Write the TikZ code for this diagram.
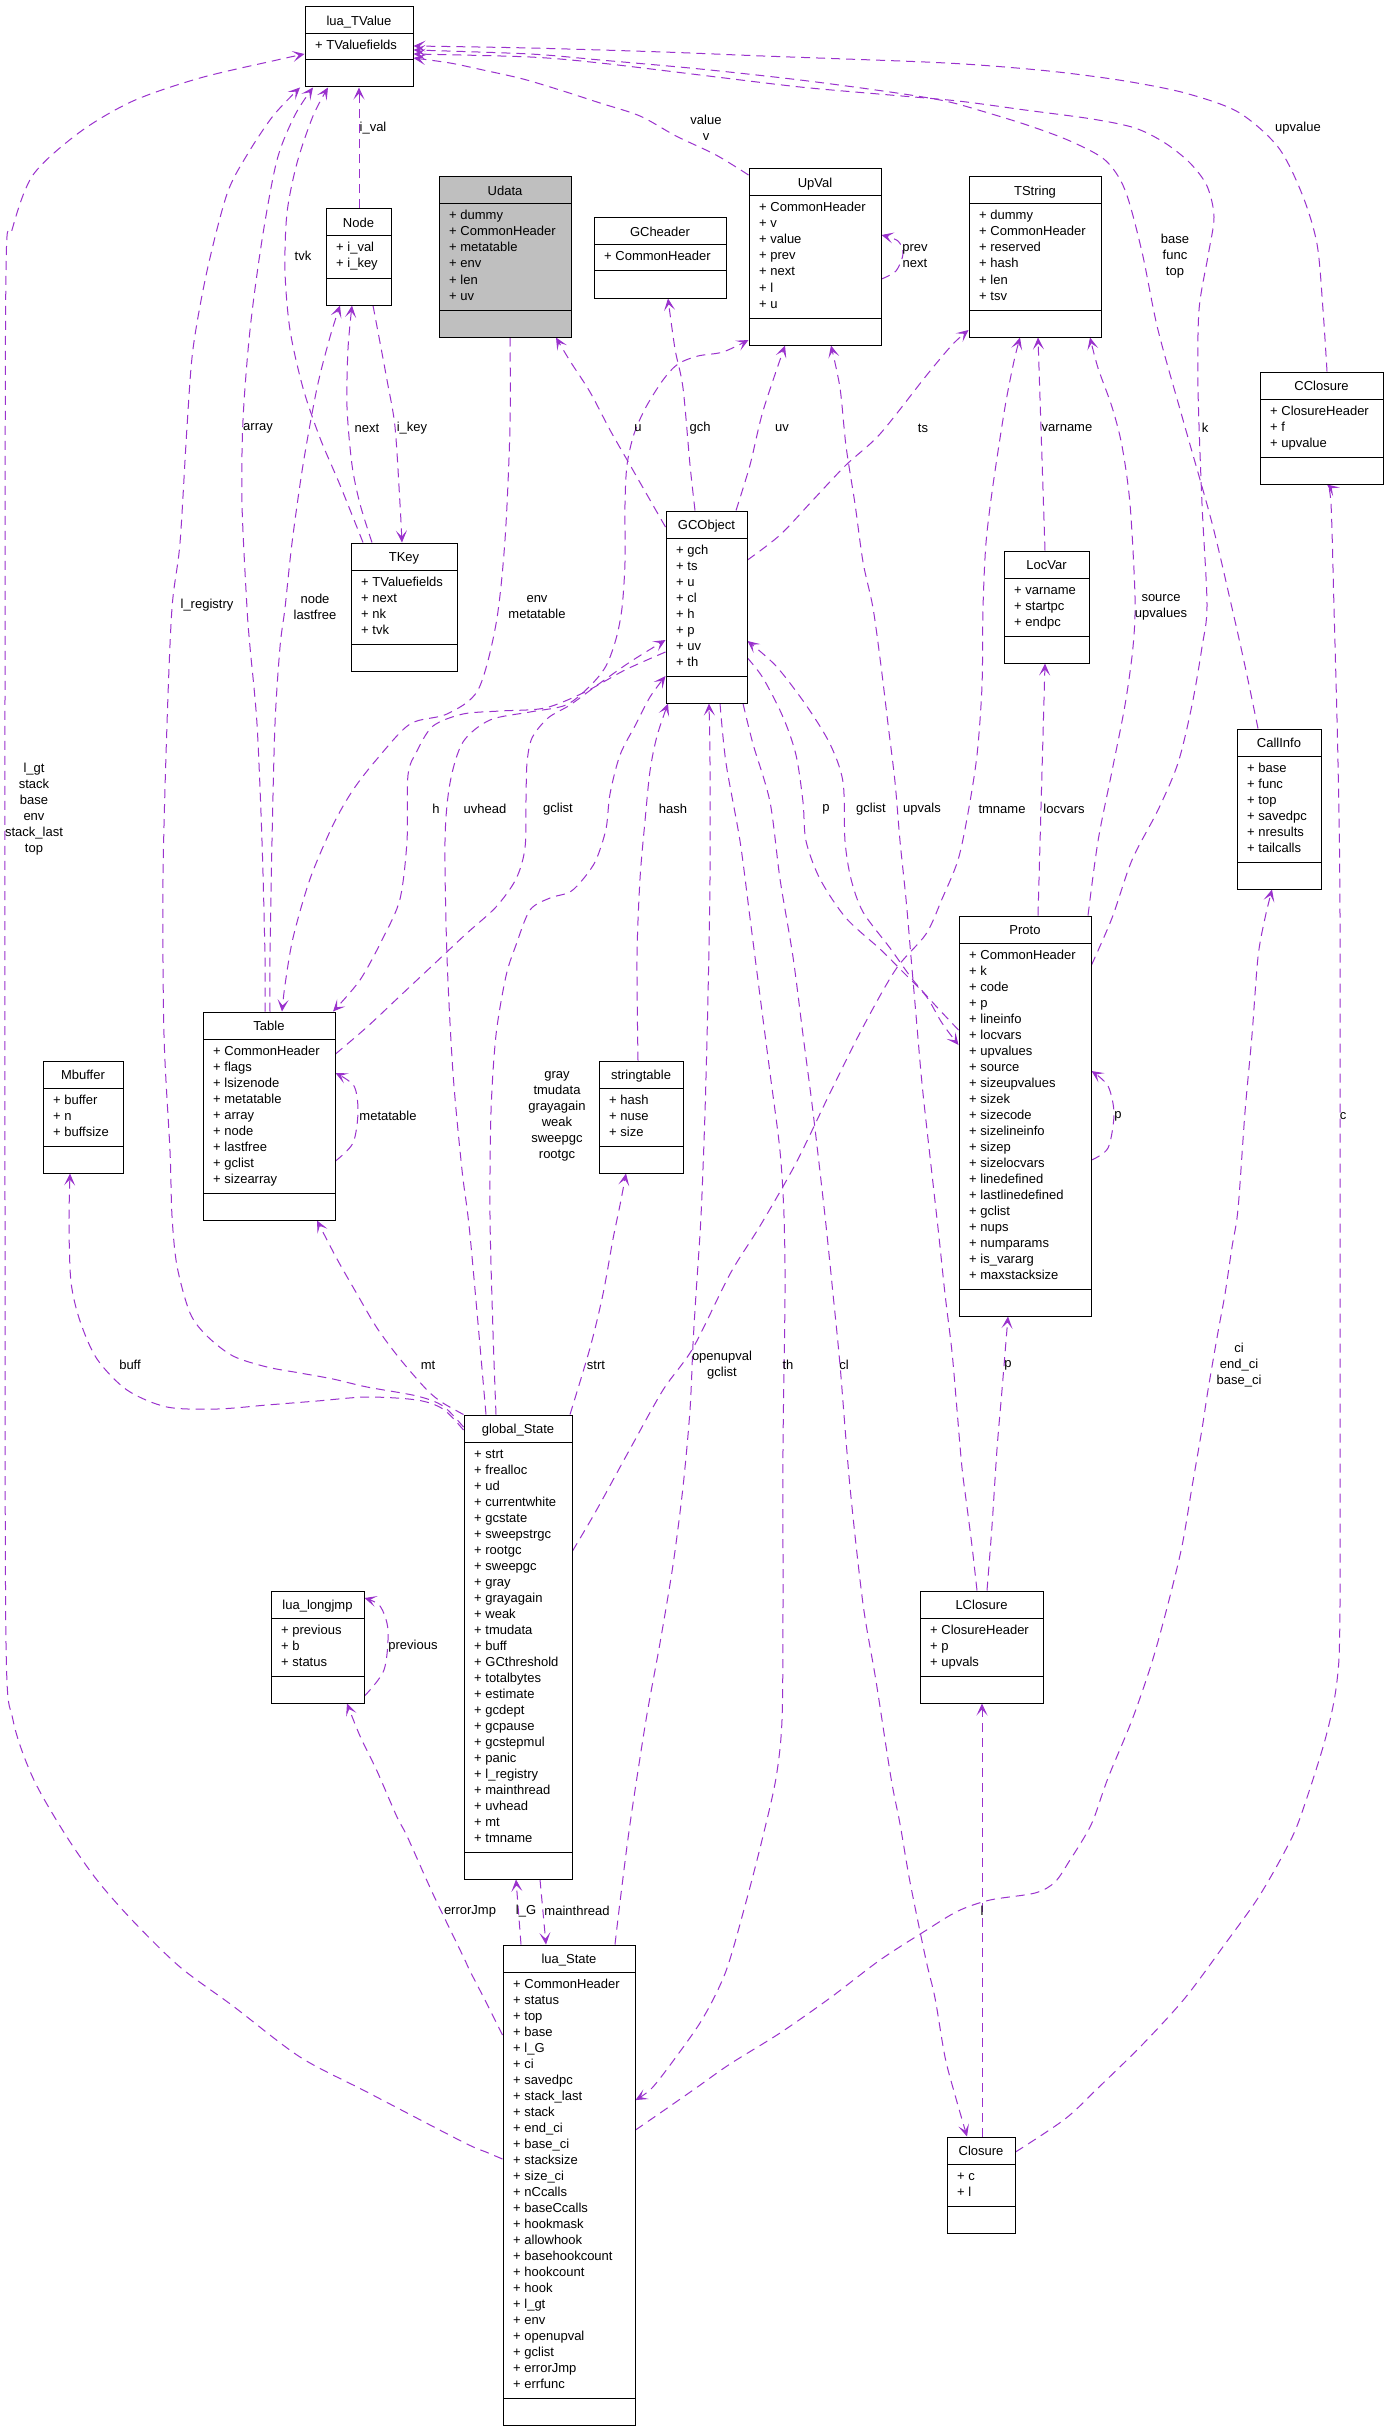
\documentclass[tikz,border=0pt]{standalone}
\usepackage{fontspec}
\setmainfont{Liberation Sans}
\usetikzlibrary{arrows.meta,fit}
\pgfdeclarelayer{bg}
\pgfdeclarelayer{edges}
\pgfsetlayers{bg,edges,main}
\definecolor{edgec}{HTML}{9A32CD}
\definecolor{udgray}{HTML}{BFBFBF}
\tikzset{
  clsnode/.style={draw=black, line width=1pt, inner sep=0pt, fill=white},
  clsline/.style={draw=black, line width=1pt},
  ttl/.style={anchor=base, inner sep=0pt, font=\fontsize{13}{16}\selectfont},
  fld/.style={anchor=base west, inner sep=0pt, font=\fontsize{13}{16}\selectfont},
  elabel/.style={align=center, inner sep=0pt, font=\fontsize{13}{16}\selectfont},
  edge/.style={draw=edgec, line width=1pt, dash pattern=on 9pt off 6pt,
    -{Stealth[length=12pt,width=11pt,inset=6pt,fill=edgec]}}
}
\newcommand{\umlcls}[8]{%
  \pgfmathsetmacro\clsyh{#4+27}%
  \pgfmathsetmacro\clsyd{#4+37+16*#6}%
  \pgfmathsetmacro\clsyb{#4+64+16*#6}%
  \pgfmathsetmacro\clsxm{(#3+#5)/2}%
  \node[clsnode,#1,fit={(#3,#4)(#5,\clsyb)}] (#2) {};
  \draw[clsline] (#3,\clsyh) -- (#5,\clsyh) (#3,\clsyd) -- (#5,\clsyd);
  \node[ttl] (#2-title) at (\clsxm,#4+18.5) {#7};
  \foreach \clsf [count=\clsi] in {#8} {\node[fld] (#2-f\clsi) at (#3+10,\clsyh+16*\clsi) {+ \clsf};}
}
\begin{document}
\begin{tikzpicture}[x=1pt,y=-1pt]
\begin{pgfonlayer}{bg}
\fill[white] (0,0) rectangle (1388,2432);
\end{pgfonlayer}
\useasboundingbox (0,0) rectangle (1388,2432);

\umlcls{}{TValue}{305}{7}{413}{1}{lua\_TValue}{TValuefields}
\umlcls{}{Node}{326}{209}{391}{2}{Node}{i\_val,i\_key}
\umlcls{}{TKey}{351}{543}{457}{4}{TKey}{TValuefields,next,nk,tvk}
\umlcls{fill=udgray}{Udata}{439}{177}{571}{6}{Udata}{dummy,CommonHeader,metatable,env,len,uv}
\umlcls{}{GCheader}{594}{218}{726}{1}{GCheader}{CommonHeader}
\umlcls{}{UpVal}{749}{169}{881}{7}{UpVal}{CommonHeader,v,value,prev,next,l,u}
\umlcls{}{TString}{969}{177}{1101}{6}{TString}{dummy,CommonHeader,reserved,hash,len,tsv}
\umlcls{}{CClosure}{1260}{372}{1383}{3}{CClosure}{ClosureHeader,f,upvalue}
\umlcls{}{LocVar}{1004}{551}{1089}{3}{LocVar}{varname,startpc,endpc}
\umlcls{}{GCObject}{666}{511}{747}{8}{GCObject}{gch,ts,u,cl,h,p,uv,th}
\umlcls{}{CallInfo}{1237}{729}{1321}{6}{CallInfo}{base,func,top,savedpc,nresults,tailcalls}
\umlcls{}{Proto}{959}{916}{1091}{21}{Proto}{CommonHeader,k,code,p,lineinfo,locvars,upvalues,source,sizeupvalues,sizek,sizecode,sizelineinfo,sizep,sizelocvars,linedefined,lastlinedefined,gclist,nups,numparams,is\_vararg,maxstacksize}
\umlcls{}{Table}{203}{1012}{335}{9}{Table}{CommonHeader,flags,lsizenode,metatable,array,node,lastfree,gclist,sizearray}
\umlcls{}{Mbuffer}{43}{1061}{123}{3}{Mbuffer}{buffer,n,buffsize}
\umlcls{}{strtab}{599}{1061}{683}{3}{stringtable}{hash,nuse,size}
\umlcls{}{gState}{464}{1415}{572}{25}{global\_State}{strt,frealloc,ud,currentwhite,gcstate,sweepstrgc,rootgc,sweepgc,gray,grayagain,weak,tmudata,buff,GCthreshold,totalbytes,estimate,gcdept,gcpause,gcstepmul,panic,l\_registry,mainthread,uvhead,mt,tmname}
\umlcls{}{longjmp}{271}{1591}{364}{3}{lua\_longjmp}{previous,b,status}
\umlcls{}{LClosure}{920}{1591}{1043}{3}{LClosure}{ClosureHeader,p,upvals}
\umlcls{}{lState}{503}{1945}{635}{26}{lua\_State}{CommonHeader,status,top,base,l\_G,ci,savedpc,stack\_last,stack,end\_ci,base\_ci,stacksize,size\_ci,nCcalls,baseCcalls,hookmask,allowhook,basehookcount,hookcount,hook,l\_gt,env,openupval,gclist,errorJmp,errfunc}
\umlcls{}{Closure}{947}{2137}{1015}{2}{Closure}{c,l}

\begin{pgfonlayer}{edges}
% i_val
\draw[edge] (359,0 |- Node.north) -- (359,0 |- TValue.south);
% tvk
\draw[edge] plot[smooth] coordinates {(363,0 |- TKey.north) (340,485) (320,438) (303,388) (290,330) (285,271) (287,213) (297,163) (313,116) (328,0 |- TValue.south)};
% array
\draw[edge] plot[smooth] coordinates {(265,0 |- Table.north) (265,957) (262,841) (257,724) (250,647) (247,608) (242,504) (243,420) (250,330) (262,240) (277,160) (295,115) (313,0 |- TValue.south)};
% next
\draw[edge] plot[smooth] coordinates {(372,0 |- TKey.north) (360,504) (352,465) (347,407) (348,349) (352,0 |- Node.south)};
% i_key
\draw[edge] plot[smooth] coordinates {(373,0 |- Node.south) (387,380) (395,427) (400,504) (402,0 |- TKey.north)};
% node lastfree
\draw[edge] plot[smooth] coordinates {(270,0 |- Table.north) (270,957) (272,841) (275,724) (280,647) (285,608) (292,543) (303,465) (317,388) (330,337) (340,0 |- Node.south)};
% l_registry
\draw[edge] plot[smooth] coordinates {(gState.west |- 0,1427) (443,1406) (417,1396) (367,1387) (333,1379) (300,1373) (267,1367) (233,1356) (207,1336) (190,1313) (177,1266) (172,1216) (170,1151) (164,1035) (163,879) (167,724) (172,608) (180,543) (187,427) (193,349) (207,271) (227,194) (247,155) (273,116) (300,0 |- TValue.south)};
% buff
\draw[edge] plot[smooth] coordinates {(gState.west |- 0,1430) (443,1409) (417,1400) (367,1397) (317,1401) (267,1405) (217,1409) (167,1407) (127,1390) (97,1359) (80,1321) (71,1282) (69,1224) (70,0 |- Mbuffer.south)};
% l_gt stack ...
\draw[edge] plot[smooth] coordinates {(lState.west |- 0,2159) (486,2152) (463,2142) (367,2092) (300,2057) (233,2006) (180,1967) (133,1921) (97,1880) (65,1834) (33,1778) (13,1720) (6,1643) (5,1200) (5,700) (6,271) (12,230) (33,175) (80,132) (133,101) (200,78) (277,60) (TValue.west |- 0,54)};
% value v
\draw[edge] plot[smooth] coordinates {(UpVal.west |- 0,175) (716,155) (676,136) (640,116) (600,103) (563,91) (523,79) (483,70) (450,63) (TValue.east |- 0,58)};
% upvalue
\draw[edge] plot[smooth] coordinates {(1327,0 |- CClosure.north) (1323,310) (1317,244) (1302,194) (1278,147) (1238,112) (1185,93) (1125,81) (1058,72) (992,66) (925,62) (763,56) (663,52) (530,48) (TValue.east |- 0,46)};
% base func top
\draw[edge] plot[smooth] coordinates {(1258,0 |- CallInfo.north) (1245,666) (1232,608) (1212,523) (1185,427) (1158,330) (1142,252) (1125,190) (1105,160) (1070,141) (1030,126) (985,112) (945,101) (890,92) (800,80) (700,69) (600,60) (530,54) (TValue.east |- 0,50)};
% k
\draw[edge] plot[smooth] coordinates {(Proto.east |- 0,965) (1112,918) (1132,860) (1158,810) (1178,763) (1192,705) (1202,647) (1207,605) (1202,504) (1198,388) (1199,310) (1208,256) (1214,217) (1207,186) (1190,163) (1165,143) (1135,128) (1092,119) (1025,110) (958,101) (890,95) (800,87) (700,75) (600,63) (530,57) (TValue.east |- 0,54)};
% source upvalues
\draw[edge] plot[smooth] coordinates {(1088,0 |- Proto.north) (1098,841) (1112,771) (1125,705) (1133,647) (1135,597) (1130,504) (1122,446) (1112,407) (1098,368) (1090,0 |- TString.south)};
% ts
\draw[edge] plot[smooth] coordinates {(GCObject.east |- 0,560) (780,535) (813,500) (846,465) (880,434) (926,376) (952,345) (TString.west |- 0,330)};
% u
\draw[edge] plot[smooth] coordinates {(GCObject.west |- 0,527) (650,500) (630,465) (610,430) (590,392) (570,361) (556,0 |- Udata.south)};
% gch
\draw[edge] plot[smooth] coordinates {(695,0 |- GCObject.north) (690,465) (683,388) (675,349) (668,0 |- GCheader.south)};
% uv
\draw[edge] plot[smooth] coordinates {(736,0 |- GCObject.north) (750,465) (763,411) (785,0 |- UpVal.south)};
% upvals
\draw[edge] plot[smooth] coordinates {(977,0 |- LClosure.north) (972,1546) (967,1507) (962,1468) (957,1410) (952,1352) (945,1294) (938,1228) (925,1112) (921,1073) (916,1015) (911,957) (906,899) (900,841) (895,782) (888,724) (881,666) (873,608) (863,562) (855,504) (846,446) (840,388) (831,0 |- UpVal.south)};
% prev next
\draw[edge] plot[smooth] coordinates {(UpVal.east |- 0,279) (896,271) (903,254) (898,241) (UpVal.east |- 0,235)};
% env metatable
\draw[edge] plot[smooth] coordinates {(510,0 |- Udata.south) (510,427) (505,540) (496,624) (478,690) (447,714) (410,724) (377,759) (353,790) (333,825) (310,879) (293,938) (285,985) (282,0 |- Table.north)};
% h
\draw[edge] plot[smooth] coordinates {(GCObject.west |- 0,652) (625,670) (585,692) (545,708) (500,711) (463,714) (433,726) (417,751) (408,775) (407,841) (400,899) (383,938) (360,980) (333,0 |- Table.north)};
% gclist (Table)
\draw[edge] plot[smooth] coordinates {(Table.east |- 0,1054) (367,1027) (400,996) (433,965) (466,934) (496,907) (516,879) (525,848) (526,800) (527,763) (532,738) (548,718) (570,705) (596,686) (630,662) (GCObject.west |- 0,640)};
% uvhead
\draw[edge] plot[smooth] coordinates {(486,0 |- gState.north) (470,1235) (462,1170) (453,1073) (447,957) (445,841) (450,783) (463,742) (490,720) (530,712) (566,705) (590,686) (606,666) (616,639) (622,608) (625,562) (625,504) (627,465) (634,434) (646,407) (663,380) (678,364) (698,356) (723,352) (UpVal.west |- 0,340)};
% gray tmudata ...
\draw[edge] plot[smooth] coordinates {(496,0 |- gState.north) (493,1332) (490,1216) (491,1112) (496,1035) (506,976) (516,945) (530,910) (550,898) (570,892) (584,878) (596,860) (606,829) (610,794) (620,755) (636,724) (650,697) (GCObject.west |- 0,676)};
% hash
\draw[edge] plot[smooth] coordinates {(638,0 |- strtab.north) (637,957) (640,879) (645,821) (650,771) (657,736) (668,0 |- GCObject.south)};
% openupval gclist
\draw[edge] plot[smooth] coordinates {(615,0 |- lState.north) (620,1902) (630,1824) (646,1720) (660,1643) (673,1565) (683,1487) (690,1410) (693,1344) (696,1294) (701,1216) (705,1112) (708,996) (710,879) (710,763) (709,0 |- GCObject.south)};
% th
\draw[edge] plot[smooth] coordinates {(720,0 |- GCObject.south) (726,763) (740,841) (750,918) (760,996) (770,1073) (780,1151) (784,1216) (785,1294) (783,1449) (783,1604) (782,1720) (776,1778) (763,1836) (746,1902) (726,1971) (703,2018) (676,2057) (652,2088) (lState.east |- 0,2100)};
% cl
\draw[edge] plot[smooth] coordinates {(743,0 |- GCObject.south) (753,744) (770,802) (780,879) (793,957) (803,1035) (813,1112) (825,1216) (833,1294) (840,1365) (850,1487) (863,1604) (876,1681) (891,1778) (900,1824) (910,1882) (926,1960) (935,1998) (945,2057) (955,2095) (967,0 |- Closure.north)};
% p (GCObject -> Proto)
\draw[edge] plot[smooth] coordinates {(GCObject.east |- 0,658) (763,678) (783,717) (796,755) (803,802) (806,841) (820,879) (846,918) (880,949) (903,972) (926,996) (942,1023) (Proto.west |- 0,1045)};
% gclist (Proto -> GCObject)
\draw[edge] plot[smooth] coordinates {(Proto.west |- 0,1030) (935,1005) (913,980) (890,948) (863,912) (851,879) (845,841) (843,782) (830,744) (806,705) (776,666) (GCObject.east |- 0,641)};
% tmname
\draw[edge] plot[smooth] coordinates {(gState.east |- 0,1551) (596,1511) (630,1449) (663,1390) (693,1348) (730,1274) (760,1226) (796,1163) (830,1093) (863,1027) (896,969) (926,934) (942,899) (958,860) (968,813) (977,755) (982,686) (983,608) (986,543) (993,485) (1005,407) (1014,361) (1020,0 |- TString.south)};
% varname
\draw[edge] (1045,0 |- LocVar.north) -- (1038,0 |- TString.south);
% locvars
\draw[edge] (1038,0 |- Proto.north) -- (1045,0 |- LocVar.south);
% p (Proto self)
\draw[edge] plot[smooth] coordinates {(Proto.east |- 0,1160) (1108,1148) (1114,1114) (1108,1086) (Proto.east |- 0,1071)};
% p (LClosure -> Proto)
\draw[edge] plot[smooth] coordinates {(987,0 |- LClosure.north) (992,1526) (997,1449) (1002,1390) (1008,0 |- Proto.south)};
% metatable (Table self)
\draw[edge] plot[smooth] coordinates {(Table.east |- 0,1161) (353,1143) (358,1112) (354,1086) (Table.east |- 0,1073)};
% mt
\draw[edge] plot[smooth] coordinates {(gState.north west) (443,1403) (427,1390) (400,1359) (377,1328) (357,1294) (337,1259) (317,0 |- Table.south)};
% strt
\draw[edge] plot[smooth] coordinates {(570,0 |- gState.north) (590,1348) (603,1294) (613,1239) (620,1205) (626,0 |- strtab.south)};
% mainthread
\draw[edge] (540,0 |- gState.south) -- (546,0 |- lState.north);
% l_G
\draw[edge] (521,0 |- lState.north) -- (516,0 |- gState.south);
% errorJmp
\draw[edge] plot[smooth] coordinates {(lState.west |- 0,2035) (486,2002) (470,1971) (463,1956) (433,1894) (407,1836) (397,1817) (377,1771) (360,1736) (347,0 |- longjmp.south)};
% previous
\draw[edge] plot[smooth] coordinates {(longjmp.east |- 0,1696) (384,1670) (388,1630) (380,1606) (longjmp.east |- 0,1598)};
% ci end_ci base_ci
\draw[edge] plot[smooth] coordinates {(lState.east |- 0,2130) (663,2111) (696,2088) (730,2064) (780,2033) (830,1998) (880,1960) (925,1931) (958,1911) (990,1900) (1035,1893) (1055,1882) (1070,1860) (1085,1836) (1094,1818) (1108,1778) (1132,1720) (1152,1662) (1168,1604) (1182,1546) (1192,1487) (1202,1429) (1208,1390) (1218,1332) (1225,1294) (1232,1247) (1238,1209) (1245,1112) (1252,1035) (1258,957) (1265,918) (1272,0 |- CallInfo.south)};
% l
\draw[edge] (982,0 |- Closure.north) -- (982,0 |- LClosure.south);
% c
\draw[edge] plot[smooth] coordinates {(Closure.east |- 0,2152) (1065,2119) (1098,2088) (1142,2045) (1185,1998) (1225,1944) (1258,1898) (1285,1851) (1300,1818) (1325,1740) (1337,1681) (1340,1604) (1340,1294) (1340,918) (1338,763) (1334,608) (1331,504) (1327,0 |- CClosure.south)};
\end{pgfonlayer}

% edge labels
\node[elabel] (lb1) at (373,128) {i\_val};
\node[elabel] (lb2) at (303,256) {tvk};
\node[elabel] (lb3) at (258,428) {array};
\node[elabel] (lb4) at (367,428) {next};
\node[elabel] (lb5) at (412,428) {i\_key};
\node[elabel] (lb6) at (207,605) {l\_registry};
\node[elabel] (lb7) at (315,607) {node\\lastfree};
\node[elabel] (lb8) at (537,607) {env\\metatable};
\node[elabel] (lb9) at (706,128) {value\\v};
\node[elabel] (lb10) at (1298,128) {upvalue};
\node[elabel] (lb11) at (1175,256) {base\\func\\top};
\node[elabel] (lb12) at (638,428) {u};
\node[elabel] (lb13) at (700,428) {gch};
\node[elabel] (lb14) at (782,428) {uv};
\node[elabel] (lb15) at (923,428) {ts};
\node[elabel] (lb16) at (1067,428) {varname};
\node[elabel] (lb17) at (1205,428) {k};
\node[elabel] (lb18) at (915,256) {prev\\next};
\node[elabel] (lb19) at (436,809) {h};
\node[elabel] (lb20) at (485,809) {uvhead};
\node[elabel] (lb21) at (558,809) {gclist};
\node[elabel] (lb22) at (673,809) {hash};
\node[elabel] (lb23) at (826,809) {p};
\node[elabel] (lb24) at (871,809) {gclist};
\node[elabel] (lb25) at (922,809) {upvals};
\node[elabel] (lb26) at (1002,809) {tmname};
\node[elabel] (lb27) at (1064,809) {locvars};
\node[elabel] (lb28) at (34,809) {l\_gt\\stack\\base\\env\\stack\_last\\top};
\node[elabel] (lb29) at (1161,607) {source\\upvalues};
\node[elabel] (lb30) at (388,1116) {metatable};
\node[elabel] (lb31) at (1118,1116) {p};
\node[elabel] (lb32) at (1343,1116) {c};
\node[elabel] (lb33) at (557,1116) {gray\\tmudata\\grayagain\\weak\\sweepgc\\rootgc};
\node[elabel] (lb34) at (130,1365) {buff};
\node[elabel] (lb35) at (428,1365) {mt};
\node[elabel] (lb36) at (596,1365) {strt};
\node[elabel] (lb37) at (722,1365) {openupval\\gclist};
\node[elabel] (lb38) at (788,1365) {th};
\node[elabel] (lb39) at (844,1365) {cl};
\node[elabel] (lb40) at (1008,1365) {p};
\node[elabel] (lb41) at (1239,1365) {ci\\end\_ci\\base\_ci};
\node[elabel] (lb42) at (413,1646) {previous};
\node[elabel] (lb43) at (470,1911) {errorJmp};
\node[elabel] (lb44) at (526,1911) {l\_G};
\node[elabel] (lb45) at (577,1911) {mainthread};
\node[elabel] (lb46) at (982,1911) {l};
\end{tikzpicture}
\end{document}
